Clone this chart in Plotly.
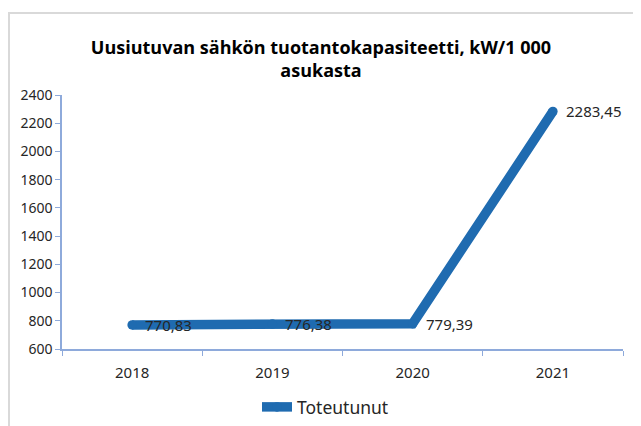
import plotly.graph_objects as go

years = ["2018", "2019", "2020", "2021"]
values = [770.83, 776.38, 779.39, 2283.45]
labels = ["770,83", "776,38", "779,39", "2283,45"]
series_name = "Toteutunut"
title_text = "Uusiutuvan sähkön tuotantokapasiteetti, kW/1 000<br>asukasta"
y_ticks = list(range(600, 2401, 200))

line_color = "#1f6bb0"
axis_color = "#8eaadb"
font_family = "Noto Sans"

# page body has an 8px margin; figure sized to fit the 641x426 window
W, H = 633, 418
L, T, R = 54, 87, 18
PW = W - L - R
PH = 254
B = H - T - PH

fig = go.Figure()
fig.add_trace(go.Scatter(
    x=years, y=values, mode="lines+markers", name=series_name,
    line=dict(color=line_color, width=9.5),
    marker=dict(color=line_color, size=9.5),
    showlegend=True,
))

for i, (y, t) in enumerate(zip(values, labels)):
    fig.add_annotation(x=i, y=y, text=t, showarrow=False, xanchor="left",
                       yanchor="middle", xshift=11, yshift=0,
                       font=dict(family=font_family, size=15, color="#262626"))

fig.update_layout(
    width=W, height=H,
    margin=dict(l=L, r=R, t=T, b=B, autoexpand=False),
    paper_bgcolor="white", plot_bgcolor="white",
    title=dict(text=title_text, x=313 / W, xanchor="center",
               y=1 - 45.5 / H, yanchor="middle",
               font=dict(family="Open Sans", size=18, color="#000000", weight="bold")),
    font=dict(family=font_family, size=14, color="#262626"),
    legend=dict(orientation="h", xref="container", yref="container",
                x=249 / W, xanchor="left", y=(H - 399) / H, yanchor="middle",
                font=dict(family=font_family, size=17.5, color="#262626")),
)
fig.update_xaxes(type="category", range=[-0.5, 3.5], tickson="boundaries",
                 ticks="outside", ticklen=5, tickcolor=axis_color,
                 showline=True, linecolor=axis_color, linewidth=1.5,
                 showgrid=False, tickfont=dict(size=15), ticklabelstandoff=9)
fig.update_yaxes(range=[600, 2400], tickvals=y_ticks, ticks="outside", ticklen=5,
                 tickcolor=axis_color, showline=True, linecolor=axis_color, linewidth=1.5,
                 showgrid=False, zeroline=False, tickfont=dict(size=14))

# spreadsheet cell borders
fig.add_shape(type="line", xref="paper", yref="paper", x0=-L / PW, x1=(W - L) / PW,
              y0=1 + (T - 5) / PH, y1=1 + (T - 5) / PH, line=dict(color="#d9d9d9", width=2))
fig.add_shape(type="line", xref="paper", yref="paper", x0=(1 - L) / PW, x1=(1 - L) / PW,
              y0=-B / PH, y1=1 + (T - 6) / PH, line=dict(color="#d9d9d9", width=2))

fig.write_html("out.html")
